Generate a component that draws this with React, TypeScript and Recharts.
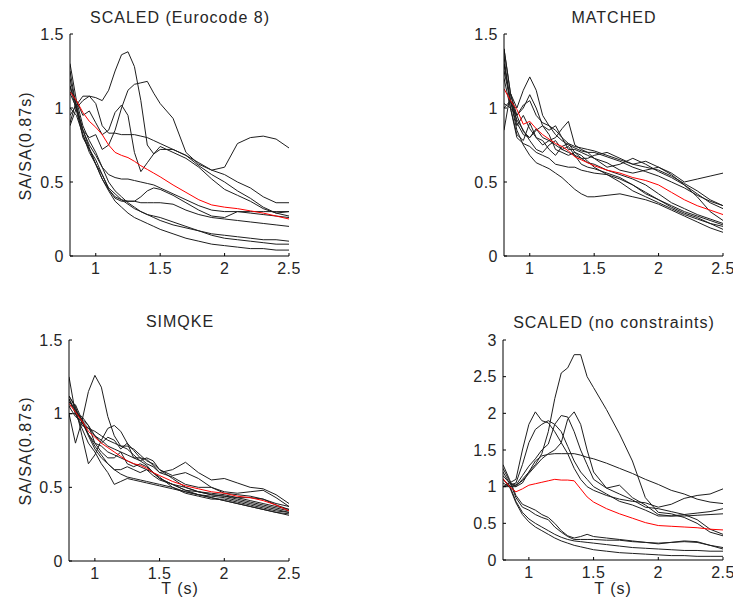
import React from 'react';
import { LineChart, Line, XAxis, YAxis } from 'recharts';

// Periods (s)
const T = [0.8, 0.85, 0.9, 0.95, 1.0, 1.05, 1.1, 1.15, 1.2, 1.25, 1.3, 1.35, 1.4, 1.45, 1.5, 1.6, 1.7, 1.8, 1.9, 2.0, 2.1, 2.2, 2.3, 2.4, 2.5];

const xTicks = [1, 1.5, 2, 2.5];
const yTicksSmall = [0, 0.5, 1, 1.5];
const yTicksLarge = [0, 0.5, 1, 1.5, 2, 2.5, 3];

// Panel 1: SCALED (Eurocode 8)
const ec8Mean = [1.11, 1.05, 0.97, 0.91, 0.87, 0.82, 0.75, 0.7, 0.68, 0.665, 0.64, 0.61, 0.585, 0.56, 0.535, 0.48, 0.43, 0.38, 0.345, 0.33, 0.32, 0.305, 0.29, 0.27, 0.25];
const ec8Records = [
  [0.88, 1.0, 1.05, 1.08, 1.07, 1.05, 1.12, 1.25, 1.36, 1.38, 1.28, 1.05, 0.75, 0.69, 0.72, 0.72, 0.68, 0.63, 0.58, 0.6, 0.76, 0.8, 0.81, 0.79, 0.73],
  [1.25, 1.0, 0.85, 0.8, 0.82, 0.72, 0.75, 0.85, 1.0, 1.12, 1.16, 1.17, 1.18, 1.1, 1.03, 0.93, 0.7, 0.62, 0.58, 0.55, 0.5, 0.46, 0.4, 0.36, 0.36],
  [1.3, 1.05, 0.95, 0.98, 0.9, 0.82, 0.85, 0.97, 1.02, 0.95, 0.7, 0.57, 0.63, 0.69, 0.74, 0.7, 0.66, 0.6, 0.52, 0.45, 0.41, 0.37, 0.32, 0.29, 0.3],
  [0.95, 1.02, 1.08, 1.08, 1.03, 0.88, 0.83, 0.83, 0.82, 0.82, 0.82, 0.81, 0.8, 0.78, 0.76, 0.72, 0.68, 0.61, 0.55, 0.5, 0.44, 0.39, 0.33, 0.29, 0.27],
  [1.1, 1.0, 0.85, 0.75, 0.68, 0.6, 0.55, 0.53, 0.52, 0.52, 0.51, 0.5, 0.49, 0.48, 0.46, 0.42, 0.38, 0.34, 0.31, 0.3, 0.3, 0.3, 0.3, 0.3, 0.3],
  [1.2, 1.0, 0.8, 0.72, 0.62, 0.55, 0.45, 0.4, 0.38, 0.37, 0.37, 0.4, 0.44, 0.46, 0.45, 0.41, 0.36, 0.31, 0.27, 0.26, 0.3, 0.29, 0.28, 0.27, 0.26],
  [1.15, 0.98, 0.82, 0.7, 0.62, 0.52, 0.45, 0.39, 0.37, 0.37, 0.37, 0.36, 0.36, 0.36, 0.36, 0.35, 0.31, 0.28, 0.26, 0.25, 0.24, 0.23, 0.22, 0.21, 0.2],
  [1.0, 0.95, 0.82, 0.72, 0.65, 0.55, 0.46, 0.42, 0.38, 0.35, 0.32, 0.3, 0.28, 0.26, 0.24, 0.21, 0.19, 0.17, 0.15, 0.14, 0.13, 0.12, 0.11, 0.11, 0.1],
  [1.15, 1.02, 0.85, 0.73, 0.62, 0.52, 0.44, 0.37, 0.33, 0.29, 0.26, 0.24, 0.22, 0.2, 0.18, 0.15, 0.12, 0.1, 0.08, 0.07, 0.06, 0.05, 0.05, 0.04, 0.04],
  [0.9, 1.05, 0.88, 0.78, 0.7, 0.6, 0.5, 0.44, 0.4, 0.36, 0.33, 0.3, 0.28, 0.27, 0.26, 0.23, 0.2, 0.17, 0.14, 0.12, 0.11, 0.1, 0.09, 0.08, 0.08],
];

// Panel 2: MATCHED
const matchedMean = [1.13, 1.05, 0.99, 0.89, 0.91, 0.86, 0.82, 0.79, 0.76, 0.74, 0.71, 0.67, 0.65, 0.63, 0.61, 0.58, 0.56, 0.53, 0.51, 0.48, 0.43, 0.38, 0.34, 0.31, 0.28];
const matchedRecords = [
  [1.4, 1.1, 1.0, 1.12, 1.21, 1.12, 0.95, 0.88, 0.85, 0.8, 0.76, 0.74, 0.73, 0.72, 0.71, 0.68, 0.65, 0.62, 0.6, 0.58, 0.54, 0.49, 0.44, 0.38, 0.34],
  [1.3, 1.05, 0.95, 1.0, 1.09, 1.0, 0.88, 0.85, 0.88, 0.8, 0.72, 0.72, 0.7, 0.68, 0.66, 0.63, 0.58, 0.56, 0.58, 0.6, 0.56, 0.5, 0.52, 0.54, 0.56],
  [1.35, 1.0, 0.82, 0.78, 0.9, 0.8, 0.75, 0.78, 0.8, 0.86, 0.91, 0.75, 0.72, 0.7, 0.66, 0.6, 0.62, 0.66, 0.62, 0.57, 0.53, 0.48, 0.42, 0.36, 0.32],
  [1.0, 1.05, 0.85, 0.75, 0.68, 0.63, 0.61, 0.59, 0.56, 0.53, 0.49, 0.45, 0.42, 0.4, 0.4, 0.41, 0.42, 0.4, 0.38, 0.35, 0.31, 0.27, 0.23, 0.19, 0.16],
  [1.2, 1.0, 0.8, 0.76, 0.74, 0.7, 0.68, 0.66, 0.62, 0.61, 0.6, 0.6, 0.58, 0.57, 0.56, 0.55, 0.5, 0.44, 0.4, 0.36, 0.32, 0.28, 0.25, 0.22, 0.2],
  [1.03, 1.0, 0.95, 1.02, 1.05, 0.95, 0.9, 0.88, 0.82, 0.78, 0.75, 0.73, 0.71, 0.7, 0.7, 0.67, 0.64, 0.6, 0.57, 0.54, 0.5, 0.46, 0.41, 0.37, 0.34],
  [1.4, 1.1, 0.9, 0.82, 0.8, 0.85, 0.88, 0.82, 0.72, 0.7, 0.68, 0.7, 0.68, 0.64, 0.6, 0.55, 0.52, 0.48, 0.43, 0.38, 0.33, 0.29, 0.26, 0.22, 0.18],
  [1.3, 1.05, 0.88, 0.95, 0.86, 0.8, 0.78, 0.72, 0.68, 0.74, 0.76, 0.7, 0.66, 0.63, 0.62, 0.58, 0.55, 0.52, 0.48, 0.42, 0.36, 0.32, 0.28, 0.25, 0.22],
  [1.25, 1.05, 0.92, 0.85, 0.78, 0.72, 0.7, 0.75, 0.78, 0.72, 0.7, 0.68, 0.66, 0.66, 0.68, 0.7, 0.66, 0.62, 0.64, 0.6, 0.55, 0.48, 0.4, 0.3, 0.24],
  [0.85, 1.1, 0.95, 0.84, 0.8, 0.86, 0.8, 0.78, 0.75, 0.72, 0.74, 0.68, 0.62, 0.6, 0.59, 0.56, 0.53, 0.48, 0.42, 0.38, 0.34, 0.3, 0.27, 0.24, 0.21],
];

// Panel 3: SIMQKE
const simqkeMean = [1.07, 1.01, 0.95, 0.88, 0.84, 0.8, 0.77, 0.74, 0.71, 0.68, 0.66, 0.65, 0.63, 0.6, 0.58, 0.54, 0.51, 0.49, 0.47, 0.46, 0.44, 0.43, 0.41, 0.38, 0.34];
const simqkeRecords = [
  [1.0, 0.8, 0.95, 1.15, 1.26, 1.18, 0.98, 0.85, 0.78, 0.76, 0.72, 0.68, 0.65, 0.6, 0.57, 0.5, 0.46, 0.44, 0.42, 0.42, 0.4, 0.38, 0.36, 0.34, 0.33],
  [1.12, 1.05, 0.85, 0.66, 0.72, 0.82, 0.9, 0.92, 0.88, 0.8, 0.7, 0.68, 0.7, 0.68, 0.62, 0.58, 0.6, 0.56, 0.5, 0.46, 0.45, 0.44, 0.42, 0.38, 0.35],
  [1.25, 1.0, 0.92, 0.9, 0.85, 0.82, 0.78, 0.76, 0.74, 0.72, 0.7, 0.7, 0.69, 0.65, 0.6, 0.62, 0.67, 0.6, 0.55, 0.56, 0.53, 0.5, 0.49, 0.45, 0.39],
  [1.1, 1.0, 0.9, 0.8, 0.74, 0.66, 0.6, 0.52, 0.54, 0.56, 0.55, 0.54, 0.53, 0.52, 0.51, 0.49, 0.47, 0.45, 0.43, 0.41, 0.39, 0.37, 0.35, 0.33, 0.31],
  [1.05, 0.98, 0.95, 0.9, 0.88, 0.85, 0.82, 0.8, 0.78, 0.78, 0.76, 0.72, 0.68, 0.66, 0.62, 0.56, 0.5, 0.47, 0.45, 0.44, 0.43, 0.43, 0.42, 0.39, 0.37],
  [1.1, 1.02, 0.96, 0.86, 0.78, 0.72, 0.66, 0.62, 0.62, 0.64, 0.62, 0.6, 0.62, 0.6, 0.56, 0.52, 0.48, 0.45, 0.44, 0.43, 0.41, 0.39, 0.37, 0.35, 0.33],
  [1.08, 1.03, 0.94, 0.86, 0.8, 0.78, 0.74, 0.72, 0.7, 0.68, 0.66, 0.64, 0.62, 0.58, 0.55, 0.52, 0.5, 0.47, 0.45, 0.44, 0.42, 0.4, 0.38, 0.36, 0.34],
  [1.12, 1.04, 0.95, 0.85, 0.76, 0.7, 0.66, 0.62, 0.59, 0.57, 0.56, 0.55, 0.54, 0.53, 0.52, 0.5, 0.47, 0.45, 0.43, 0.41, 0.39, 0.37, 0.35, 0.33, 0.32],
  [1.0, 1.0, 0.98, 0.92, 0.85, 0.8, 0.84, 0.82, 0.76, 0.8, 0.75, 0.7, 0.66, 0.64, 0.6, 0.57, 0.52, 0.5, 0.5, 0.47, 0.46, 0.47, 0.48, 0.43, 0.37],
  [1.05, 1.06, 0.96, 0.92, 0.8, 0.74, 0.7, 0.7, 0.74, 0.66, 0.64, 0.66, 0.64, 0.6, 0.56, 0.52, 0.48, 0.47, 0.46, 0.45, 0.43, 0.41, 0.39, 0.37, 0.35],
];

// Panel 4: SCALED (no constraints)
const freeMean = [1.11, 1.0, 0.93, 0.97, 1.02, 1.04, 1.06, 1.08, 1.1, 1.09, 1.09, 1.08, 0.97, 0.86, 0.79, 0.7, 0.63, 0.57, 0.51, 0.47, 0.46, 0.45, 0.44, 0.42, 0.41];
const freeRecords = [
  [1.2, 1.05, 1.0, 1.1, 1.2, 1.3, 1.45, 1.75, 2.2, 2.55, 2.62, 2.8, 2.8, 2.5, 2.35, 2.05, 1.72, 1.35, 0.85, 0.65, 0.63, 0.58, 0.5, 0.38, 0.33],
  [1.0, 1.05, 1.1, 1.5, 1.85, 2.02, 1.9, 1.87, 1.75, 1.6, 1.45, 1.25, 1.1, 1.0, 0.95, 0.88, 0.83, 0.8, 0.78, 0.72, 0.76, 0.84, 0.88, 0.9, 0.97],
  [1.1, 1.02, 1.05, 1.3, 1.6, 1.78, 1.85, 1.9, 1.85, 1.75, 1.55, 1.35, 1.2, 1.1, 1.0, 0.9, 0.8, 0.75, 0.68, 0.6, 0.6, 0.62, 0.64, 0.66, 0.7],
  [1.15, 1.05, 1.02, 1.15, 1.28, 1.38, 1.5, 1.58, 1.85, 1.97, 1.95, 1.75, 1.5, 1.3, 1.1, 0.98, 1.02, 0.85, 0.75, 0.62, 0.6, 0.6, 0.61, 0.62, 0.63],
  [1.05, 1.0, 1.02, 1.08, 1.18, 1.28, 1.38, 1.45, 1.5, 1.6, 1.92, 2.02, 1.85, 1.5, 1.2, 0.98, 0.9, 0.82, 0.72, 0.7, 0.66, 0.62, 0.55, 0.42, 0.35],
  [1.0, 1.0, 1.0, 1.05, 1.2, 1.35, 1.42, 1.44, 1.45, 1.45, 1.45, 1.45, 1.43, 1.4, 1.38, 1.32, 1.25, 1.18, 1.1, 1.03, 0.95, 0.9, 0.83, 0.79, 0.77],
  [1.3, 1.1, 0.88, 0.76, 0.72, 0.68, 0.62, 0.58, 0.5, 0.4, 0.33, 0.3, 0.32, 0.35, 0.32, 0.3, 0.28, 0.26, 0.24, 0.23, 0.24, 0.25, 0.24, 0.2, 0.17],
  [1.25, 1.08, 0.85, 0.72, 0.68, 0.62, 0.58, 0.55, 0.45, 0.38, 0.32, 0.28, 0.28, 0.28, 0.28, 0.27, 0.27, 0.25, 0.24, 0.22, 0.24, 0.26, 0.25, 0.2, 0.15],
  [1.0, 1.02, 0.8, 0.65, 0.56, 0.5, 0.45, 0.4, 0.35, 0.31, 0.28, 0.26, 0.25, 0.24, 0.23, 0.21, 0.19, 0.17, 0.16, 0.15, 0.14, 0.13, 0.13, 0.12, 0.12],
  [1.1, 1.0, 0.78, 0.62, 0.52, 0.45, 0.4, 0.35, 0.3, 0.26, 0.23, 0.2, 0.18, 0.16, 0.14, 0.12, 0.1, 0.09, 0.08, 0.07, 0.06, 0.06, 0.05, 0.05, 0.05],
];

const FONT = '"Liberation Sans", Arial, Helvetica, sans-serif';
const TEXT_COLOR = '#262626';

function buildRows(records: number[][], mean: number[]) {
  return T.map((t, i) => {
    const row: Record<string, number> = { T: t, mean: mean[i] };
    records.forEach((r, k) => {
      row['r' + k] = r[i];
    });
    return row;
  });
}

const XTick = (props: any) => {
  const { x, y, payload } = props;
  return (
    <g>
      <line x1={x} x2={x} y1={y} y2={y - 3} stroke="#000" strokeWidth={1} />
      <text x={x} y={y + 18} textAnchor="middle" fontFamily={FONT} fontSize={16} letterSpacing={0.5} fill={TEXT_COLOR}>
        {payload.value}
      </text>
    </g>
  );
};

const YTick = (props: any) => {
  const { x, y, payload } = props;
  return (
    <g>
      <line x1={x} x2={x + 3} y1={y} y2={y} stroke="#000" strokeWidth={1} />
      <text x={x - 6} y={y + 5.7} textAnchor="end" fontFamily={FONT} fontSize={16} letterSpacing={0.5} fill={TEXT_COLOR}>
        {payload.value}
      </text>
    </g>
  );
};

type PanelProps = {
  left: number;
  top: number;
  width: number;
  height: number;
  yAxisWidth: number;
  xAxisHeight: number;
  marginRight: number;
  records: number[][];
  mean: number[];
  yMax: number;
  yTicks: number[];
};

function Panel(p: PanelProps) {
  const rows = buildRows(p.records, p.mean);
  return (
    <div style={{ position: 'absolute', left: p.left, top: p.top, width: p.width, height: p.height }}>
      <LineChart
        width={p.width}
        height={p.height}
        data={rows}
        margin={{ top: 34, right: p.marginRight, bottom: 0, left: 0 }}
      >
        <XAxis
          dataKey="T"
          type="number"
          domain={[0.8, 2.5]}
          ticks={xTicks}
          interval={0}
          allowDataOverflow
          height={p.xAxisHeight}
          tickSize={0}
          tickMargin={0}
          tickLine={false}
          axisLine={{ stroke: '#000', strokeWidth: 1 }}
          tick={<XTick />}
        />
        <YAxis
          type="number"
          domain={[0, p.yMax]}
          ticks={p.yTicks}
          interval={0}
          allowDataOverflow
          width={p.yAxisWidth}
          tickSize={0}
          tickMargin={0}
          tickLine={false}
          axisLine={{ stroke: '#000', strokeWidth: 1 }}
          tick={<YTick />}
        />
        {p.records.map((_, k) => (
          <Line
            key={k}
            dataKey={'r' + k}
            type="linear"
            stroke="#1e1e1e"
            strokeWidth={1}
            dot={false}
            activeDot={false}
            isAnimationActive={false}
          />
        ))}
        <Line
          dataKey="mean"
          type="linear"
          stroke="#ff0000"
          strokeWidth={1}
          dot={false}
          activeDot={false}
          isAnimationActive={false}
        />
      </LineChart>
    </div>
  );
}

export default function App() {
  const textStyle = { fontFamily: FONT, fontSize: 16, fill: TEXT_COLOR, letterSpacing: 1 } as const;
  return (
    <div style={{ position: 'absolute', left: 0, top: 0, width: 733, height: 611, background: '#fff', overflow: 'hidden' }}>
      <Panel left={0} top={0} width={300} height={290} yAxisWidth={70} xAxisHeight={34} marginRight={11}
        records={ec8Records} mean={ec8Mean} yMax={1.5} yTicks={yTicksSmall} />
      <Panel left={434} top={0} width={299} height={290} yAxisWidth={70} xAxisHeight={34} marginRight={10}
        records={matchedRecords} mean={matchedMean} yMax={1.5} yTicks={yTicksSmall} />
      <Panel left={0} top={306} width={300} height={290} yAxisWidth={69} xAxisHeight={35} marginRight={11}
        records={simqkeRecords} mean={simqkeMean} yMax={1.5} yTicks={yTicksSmall} />
      <Panel left={433} top={306} width={300} height={290} yAxisWidth={70} xAxisHeight={36} marginRight={10}
        records={freeRecords} mean={freeMean} yMax={3} yTicks={yTicksLarge} />
      <svg width={733} height={611} style={{ position: 'absolute', left: 0, top: 0, pointerEvents: 'none' }}>
        <text x={180} y={23} textAnchor="middle" {...textStyle}>SCALED (Eurocode 8)</text>
        <text x={614} y={23} textAnchor="middle" {...textStyle}>MATCHED</text>
        <text x={180} y={327} textAnchor="middle" {...textStyle}>SIMQKE</text>
        <text x={614} y={328} textAnchor="middle" {...textStyle}>SCALED (no constraints)</text>
        <text x={31} y={146} textAnchor="middle" transform="rotate(-90 31 146)" {...textStyle}>SA/SA(0.87s)</text>
        <text x={31} y={451} textAnchor="middle" transform="rotate(-90 31 451)" {...textStyle}>SA/SA(0.87s)</text>
        <text x={180} y={594} textAnchor="middle" {...textStyle}>T (s)</text>
        <text x={613} y={594} textAnchor="middle" {...textStyle}>T (s)</text>
      </svg>
    </div>
  );
}
